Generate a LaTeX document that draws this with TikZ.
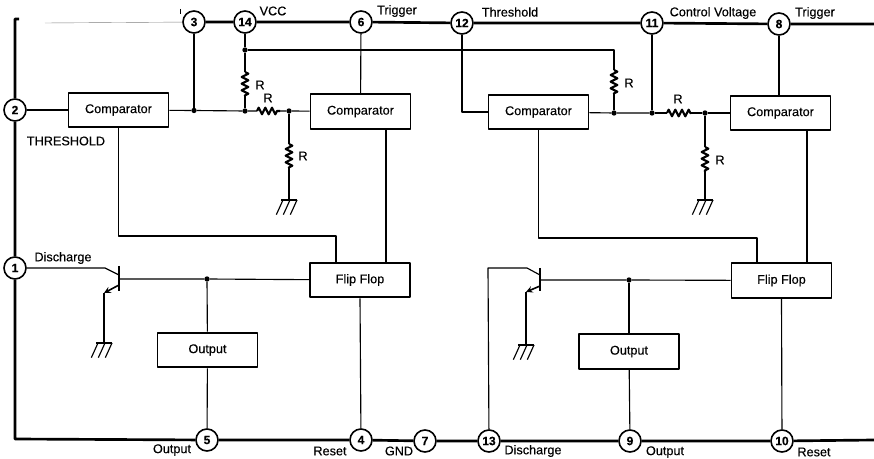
\documentclass[tikz,border=0pt]{standalone}
\usepackage{fontspec}
\setmainfont[FakeBold=0.35]{Liberation Sans}
\usetikzlibrary{decorations.pathmorphing}
\tikzset{
	pin/.style={draw,circle,fill=white,line width=1.2pt,inner sep=0pt,minimum size=16.5pt,font=\fontsize{9}{9}\selectfont\bfseries},
	block/.style={draw,line width=1.4pt,fill=white,inner sep=0pt,minimum width=75pt,minimum height=26pt},
	bus/.style={line width=2pt},
	wire/.style={line width=0.85pt},
	dot/.style={circle,fill=black,inner sep=0pt,minimum size=4pt},
	lbl/.style={inner sep=0pt},
	res/.style={line width=1.6pt,decorate,decoration={zigzag,segment length=5pt,amplitude=2.5pt}},
	bar/.style={line width=1.8pt},
	gnd/.pic={
		\draw[line width=1.3pt] (-6pt,0)--(6pt,0);
		\foreach \i in {-4.5,0.75,6} \draw[wire] (\i pt,0)--(\i pt-5pt,-11pt);
	}
}
\begin{document}
\begin{tikzpicture}[x=0.75pt,y=-0.75pt,font=\fontsize{9.5}{9.5}\selectfont,line join=round,>=stealth]
	\useasboundingbox (0,0) rectangle (874,459);
	% pins
	\foreach \n/\x/\y in {3/194/22,14/245/22,6/361/22,12/462/23,11/652/23,8/779/24,2/15/110,1/15/268,5/207/440,4/361/440,7/425/441,13/489/441,9/630/441,10/782/441}
		\node[pin] (p\n) at (\x,\y) {\n};
	% blocks
	\node[block] (c1) at (118.5,110) {Comparator};
	\node[block] (c2) at (360.5,111.5) {Comparator};
	\node[block] (c3) at (538.5,112) {Comparator};
	\node[block] (c4) at (780.5,113) {Comparator};
	\node[block] (f1) at (360,280) {Flip Flop};
	\node[block] (f2) at (781.5,280.5) {Flip Flop};
	\node[block] (o1) at (207.5,350) {Output};
	\node[block] (o2) at (629,351.5) {Output};
	% junctions
	\foreach \n/\x/\y in {a/194/110.5,b/245/111,c/289/111,d/245/50,e/614/113,f/652/113,g/705/113,h/207/279,i/629/280}
		\node[dot] (d\n) at (\x,\y) {};
	\coordinate (tl) at (15,19);
	\coordinate (tk) at (19,19);
	\coordinate (gr) at (45,23);
	\coordinate (tr) at (874,24);
	\coordinate (bl) at (15,439);
	\coordinate (br) at (874,440);
	% bus lines
	\draw[bus] (tk)--(tl)--(p2)--(p1)--(bl)--(p5)--(p4)--(p7)--(p13)--(p9)--(p10)--(br);
	\draw[bus] (p3)--(p14)--(p6)--(p12)--(p11)--(p8)--(tr);
	\draw[line width=0.3pt,gray] (gr)--(p3);
	\draw[line width=0.6pt] (180,9)--(180,14);
	% left half
	\draw[wire] (p2)--(c1);
	\draw[wire] (p3)--(da);
	\draw[wire] (c1)--(da)--(db);
	\draw[wire] (p14)--(dd);
	\coordinate (r1a) at (245,72); \coordinate (r1b) at (245,96);
	\draw[wire] (dd)--(r1a) (r1b)--(db);
	\draw[res] (r1a)--(r1b);
	\coordinate (r2a) at (257,111); \coordinate (r2b) at (280,111);
	\draw[wire] (db)--(r2a) (r2b)--(dc)--(c2);
	\draw[res] (r2a)--(r2b);
	\coordinate (r3a) at (289,144); \coordinate (r3b) at (289,168);
	\coordinate (g1) at (289,200);
	\draw[wire] (dc)--(r3a) (r3b)--(g1);
	\draw[res] (r3a)--(r3b);
	\pic at (g1) {gnd};
	\draw[wire] (p6)--(c2);
	\coordinate (k1) at (336,236);
	\draw[wire] (c1.south) |- (k1) -- (k1 |- f1.north);
	\coordinate (k2) at (386,200);
	\draw[wire] (k2 |- c2.south) -- (k2 |- f1.north);
	\draw[wire] (f1.south)--(p4);
	% left transistor
	\coordinate (t1) at (119,279);
	\draw[bar] (119,266)--(119,291);
	\draw[wire] (t1)--(dh)--(f1);
	\draw[wire] (dh)--(o1);
	\draw[wire] (o1)--(p5);
	\draw[wire] (p1)--(105,268)--(119,275);
	\coordinate (e1) at (104,293);
	\coordinate (g2) at (104,343);
	\draw[line width=1.2pt,->] (119,285)--(e1);
	\draw[wire] (e1)--(g2);
	\pic at (g2) {gnd};
	% right half
	\coordinate (m1) at (462,112);
	\draw[wire] (p12)--(m1)--(c3);
	\coordinate (m2) at (614,50);
	\coordinate (r4a) at (614,70); \coordinate (r4b) at (614,94);
	\draw[wire] (dd)--(m2)--(r4a) (r4b)--(de);
	\draw[res] (r4a)--(r4b);
	\draw[wire] (c3)--(de)--(df);
	\draw[wire] (p11)--(df);
	\coordinate (r5a) at (667,113); \coordinate (r5b) at (691,113);
	\draw[wire] (df)--(r5a) (r5b)--(dg)--(c4);
	\draw[res] (r5a)--(r5b);
	\coordinate (r6a) at (705,147); \coordinate (r6b) at (705,172);
	\coordinate (g3) at (705,200);
	\draw[wire] (dg)--(r6a) (r6b)--(g3);
	\draw[res] (r6a)--(r6b);
	\pic at (g3) {gnd};
	\draw[wire] (p8)--(p8 |- c4.north);
	\coordinate (k3) at (757,238);
	\draw[wire] (c3.south) |- (k3) -- (k3 |- f2.north);
	\coordinate (k4) at (807,200);
	\draw[wire] (k4 |- c4.south) -- (k4 |- f2.north);
	\draw[wire] (f2.south)--(p10);
	% right transistor
	\coordinate (t2) at (540,280);
	\draw[bar] (540,268)--(540,291);
	\draw[wire] (t2)--(di)--(f2);
	\draw[wire] (di)--(o2);
	\draw[wire] (o2)--(p9);
	\draw[wire] (p13)--(488,268)--(527,268)--(540,275);
	\coordinate (e2) at (526,292);
	\coordinate (g4) at (526,345);
	\draw[line width=1.2pt,->] (540,286)--(e2);
	\draw[wire] (e2)--(g4);
	\pic at (g4) {gnd};
	% labels
	\foreach \n/\x/\y/\t in {a/273/11/VCC,b/397/11/Trigger,c/510/12/Threshold,d/713/13/Control Voltage,e/815/13/Trigger,f/66/141/THRESHOLD,g/63/258/Discharge,h/172/450/Output,i/330/451/Reset,j/399/451/GND,k/533/451/Discharge,l/665/452/Output,m/814/452/Reset,n/260/85/R,o/268/98/R,p/303/156/R,q/629/83/R,r/678/99/R,s/720/160/R}
		\node[lbl] (l\n) at (\x,\y) {\t};
\end{tikzpicture}
\end{document}
